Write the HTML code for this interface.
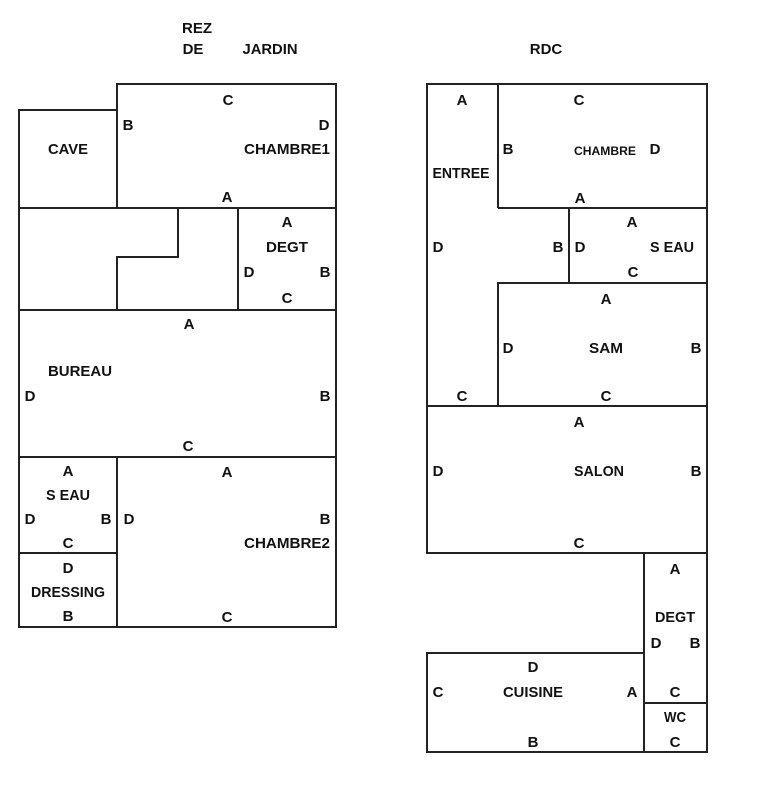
<!DOCTYPE html>
<html><head><meta charset="utf-8"><style>
html,body{margin:0;padding:0;background:#fff;width:759px;height:800px;overflow:hidden}
svg text{font-family:"Liberation Sans",sans-serif;font-weight:bold;font-size:15px;fill:#111;text-anchor:middle}
</style></head><body>
<svg width="759" height="800" viewBox="0 0 759 800" xmlns="http://www.w3.org/2000/svg">
<g fill="none" stroke="#222" stroke-width="2">
<rect x="117" y="84" width="219" height="124"/>
<rect x="19" y="110" width="98" height="98"/>
<rect x="19" y="208" width="317" height="102"/>
<line x1="238" y1="208" x2="238" y2="310"/>
<polyline points="178,208 178,257 117,257 117,310"/>
<rect x="19" y="310" width="317" height="147"/>
<rect x="19" y="457" width="98" height="96"/>
<rect x="19" y="553" width="98" height="74"/>
<rect x="117" y="457" width="219" height="170"/>
<rect x="427" y="84" width="280" height="322"/>
<line x1="498" y1="84" x2="498" y2="208"/>
<line x1="498" y1="208" x2="707" y2="208"/>
<line x1="569" y1="208" x2="569" y2="283"/>
<polyline points="707,283 498,283 498,406"/>
<rect x="427" y="406" width="280" height="147"/>
<rect x="644" y="553" width="63" height="150"/>
<rect x="644" y="703" width="63" height="49"/>
<rect x="427" y="653" width="217" height="99"/>
</g>
<g>
<text x="197" y="33">REZ</text>
<text x="193" y="54">DE</text>
<text x="270" y="54" textLength="55" lengthAdjust="spacingAndGlyphs">JARDIN</text>
<text x="546" y="54">RDC</text>

<text x="68" y="154" textLength="40" lengthAdjust="spacingAndGlyphs">CAVE</text>
<text x="228" y="105">C</text>
<text x="128" y="130">B</text>
<text x="324" y="130">D</text>
<text x="287" y="154" textLength="86" lengthAdjust="spacingAndGlyphs">CHAMBRE1</text>
<text x="227" y="202">A</text>

<text x="287" y="227">A</text>
<text x="287" y="252" textLength="42" lengthAdjust="spacingAndGlyphs">DEGT</text>
<text x="249" y="277">D</text>
<text x="325" y="277">B</text>
<text x="287" y="303">C</text>

<text x="189" y="329">A</text>
<text x="80" y="376" textLength="64" lengthAdjust="spacingAndGlyphs">BUREAU</text>
<text x="30" y="401">D</text>
<text x="325" y="401">B</text>
<text x="188" y="451">C</text>

<text x="68" y="476">A</text>
<text x="68" y="500" textLength="44" lengthAdjust="spacingAndGlyphs">S EAU</text>
<text x="30" y="524">D</text>
<text x="106" y="524">B</text>
<text x="68" y="548">C</text>
<text x="68" y="573">D</text>
<text x="68" y="597" textLength="74" lengthAdjust="spacingAndGlyphs">DRESSING</text>
<text x="68" y="621">B</text>

<text x="227" y="477">A</text>
<text x="129" y="524">D</text>
<text x="325" y="524">B</text>
<text x="287" y="548" textLength="86" lengthAdjust="spacingAndGlyphs">CHAMBRE2</text>
<text x="227" y="622">C</text>

<text x="462" y="105">A</text>
<text x="461" y="178" textLength="57" lengthAdjust="spacingAndGlyphs">ENTREE</text>
<text x="438" y="252">D</text>
<text x="558" y="252">B</text>
<text x="462" y="401">C</text>

<text x="579" y="105">C</text>
<text x="508" y="154">B</text>
<text x="605" y="155" style="font-size:12px" textLength="62" lengthAdjust="spacingAndGlyphs">CHAMBRE</text>
<text x="655" y="154">D</text>
<text x="580" y="203">A</text>

<text x="632" y="227">A</text>
<text x="580" y="252">D</text>
<text x="672" y="252" textLength="44" lengthAdjust="spacingAndGlyphs">S EAU</text>
<text x="633" y="277">C</text>

<text x="606" y="304">A</text>
<text x="508" y="353">D</text>
<text x="606" y="353" textLength="34" lengthAdjust="spacingAndGlyphs">SAM</text>
<text x="696" y="353">B</text>
<text x="606" y="401">C</text>

<text x="579" y="427">A</text>
<text x="438" y="476">D</text>
<text x="599" y="476" textLength="50" lengthAdjust="spacingAndGlyphs">SALON</text>
<text x="696" y="476">B</text>
<text x="579" y="548">C</text>

<text x="675" y="574">A</text>
<text x="675" y="622" textLength="40" lengthAdjust="spacingAndGlyphs">DEGT</text>
<text x="656" y="648">D</text>
<text x="695" y="648">B</text>
<text x="675" y="697">C</text>
<text x="675" y="722" textLength="22" lengthAdjust="spacingAndGlyphs">WC</text>
<text x="675" y="747">C</text>

<text x="533" y="672">D</text>
<text x="438" y="697">C</text>
<text x="533" y="697" textLength="60" lengthAdjust="spacingAndGlyphs">CUISINE</text>
<text x="632" y="697">A</text>
<text x="533" y="747">B</text>
</g>
</svg>
</body></html>
